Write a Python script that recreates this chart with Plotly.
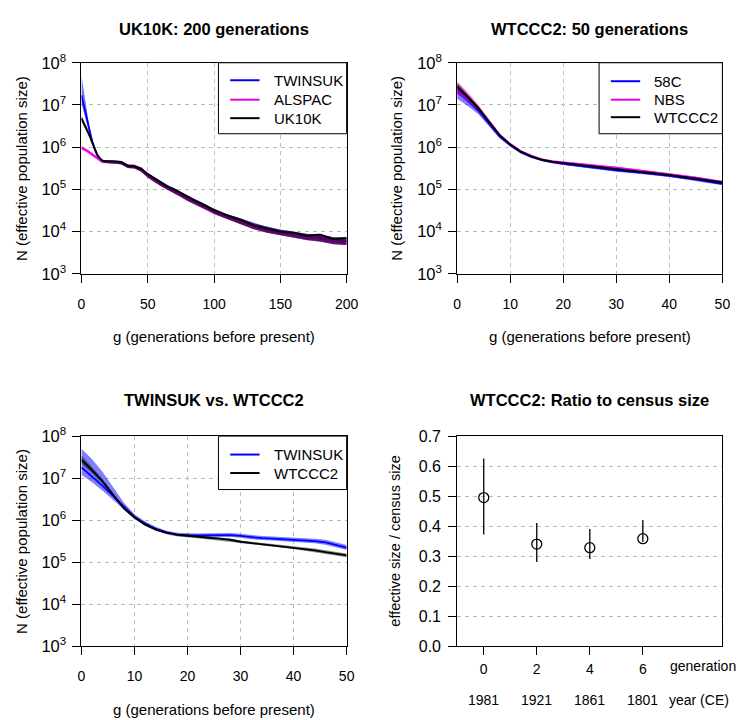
import plotly.graph_objects as go

# ---------------- data ----------------
# Panel 1: UK10K, 200 generations
G1 = [0, 2, 4, 6, 8, 10, 12, 14, 16, 18, 20, 25, 30, 35, 40, 45, 50, 55, 60, 65, 70, 75,
      80, 85, 90, 95, 100, 110, 120, 130, 140, 150, 160, 170, 180, 190, 200]
uk10k_mid = [4.8e6, 3.6e6, 2.7e6, 1.9e6, 1.3e6, 9.0e5, 6.6e5, 5.4e5, 4.8e5, 4.7e5, 4.7e5, 4.6e5,
             4.5e5, 3.6e5, 3.5e5, 3.1e5, 2.3e5, 1.8e5, 1.45e5, 1.15e5, 1.0e5, 8.2e4, 6.6e4, 5.5e4,
             4.7e4, 3.9e4, 3.2e4, 2.4e4, 1.9e4, 1.4e4, 1.2e4, 1.0e4, 9.3e3, 7.9e3, 8.4e3, 6.6e3, 7.0e3]
uk10k_lo = [4.0e6, 3.1e6, 2.4e6, 1.7e6, 1.2e6, 8.4e5, 6.2e5, 5.1e5, 4.5e5, 4.2e5, 4.1e5, 4.1e5,
            3.9e5, 3.2e5, 3.1e5, 2.6e5, 1.9e5, 1.5e5, 1.18e5, 9.5e4, 8.0e4, 6.6e4, 5.3e4, 4.4e4,
            3.75e4, 3.15e4, 2.6e4, 1.92e4, 1.5e4, 1.13e4, 9.4e3, 8.0e3, 7.2e3, 6.3e3, 5.8e3, 5.0e3, 4.8e3]
uk10k_hi = [5.6e6, 4.2e6, 3.0e6, 2.1e6, 1.4e6, 9.6e5, 7.0e5, 5.7e5, 5.0e5, 4.9e5, 4.9e5, 4.8e5,
            4.7e5, 3.9e5, 3.8e5, 3.3e5, 2.45e5, 1.95e5, 1.55e5, 1.25e5, 1.06e5, 8.7e4, 7.0e4, 5.9e4,
            5.0e4, 4.1e4, 3.45e4, 2.55e4, 2.05e4, 1.55e4, 1.3e4, 1.1e4, 1.0e4, 8.7e3, 8.8e3, 7.2e3, 7.4e3]
twinsuk1_mid = [1.7e7, 9.0e6, 4.5e6, 2.4e6, 1.4e6, 9.0e5, 6.3e5, 5.0e5, 4.5e5, 4.4e5, 4.4e5, 4.4e5,
                4.3e5, 3.5e5, 3.4e5, 2.9e5, 2.1e5, 1.7e5, 1.35e5, 1.1e5, 9.2e4, 7.6e4, 6.1e4, 5.1e4,
                4.3e4, 3.6e4, 3.0e4, 2.2e4, 1.75e4, 1.35e4, 1.1e4, 9.4e3, 8.5e3, 7.5e3, 7.0e3, 6.2e3, 5.9e3]
twinsuk1_lo = [1.1e7, 6.5e6, 3.6e6, 2.0e6, 1.2e6, 8.0e5, 5.8e5, 4.6e5, 4.2e5, 4.1e5, 4.1e5, 4.1e5,
               3.9e5, 3.2e5, 3.1e5, 2.6e5, 1.9e5, 1.5e5, 1.2e5, 9.7e4, 8.1e4, 6.7e4, 5.4e4, 4.5e4,
               3.8e4, 3.2e4, 2.65e4, 1.95e4, 1.5e4, 1.15e4, 9.4e3, 8.0e3, 7.2e3, 6.3e3, 5.8e3, 5.1e3, 4.8e3]
twinsuk1_hi = [5.0e7, 1.9e7, 6.8e6, 3.0e6, 1.65e6, 1.02e6, 6.9e5, 5.5e5, 4.9e5, 4.8e5, 4.8e5, 4.8e5,
               4.7e5, 3.9e5, 3.8e5, 3.3e5, 2.4e5, 1.95e5, 1.55e5, 1.26e5, 1.05e5, 8.7e4, 7.0e4, 5.9e4,
               4.9e4, 4.1e4, 3.45e4, 2.55e4, 2.05e4, 1.6e4, 1.3e4, 1.12e4, 1.0e4, 8.9e3, 8.3e3, 7.4e3, 7.1e3]
alspac_mid = [9.5e5, 9.0e5, 8.3e5, 7.5e5, 6.8e5, 6.2e5, 5.5e5, 4.9e5, 4.5e5, 4.4e5, 4.4e5, 4.4e5,
              4.3e5, 3.5e5, 3.4e5, 2.9e5, 2.1e5, 1.65e5, 1.3e5, 1.05e5, 8.8e4, 7.3e4, 5.9e4, 4.9e4,
              4.2e4, 3.5e4, 2.9e4, 2.15e4, 1.7e4, 1.3e4, 1.08e4, 9.2e3, 8.3e3, 7.3e3, 6.8e3, 6.0e3, 5.7e3]
alspac_lo = [8.5e5, 8.1e5, 7.5e5, 6.8e5, 6.2e5, 5.6e5, 5.0e5, 4.5e5, 4.2e5, 4.1e5, 4.1e5, 4.1e5,
             4.0e5, 3.2e5, 3.1e5, 2.6e5, 1.9e5, 1.48e5, 1.17e5, 9.4e4, 7.8e4, 6.5e4, 5.2e4, 4.3e4,
             3.7e4, 3.1e4, 2.55e4, 1.9e4, 1.48e4, 1.12e4, 9.3e3, 7.9e3, 7.1e3, 6.2e3, 5.7e3, 5.0e3, 4.7e3]
alspac_hi = [1.08e6, 1.0e6, 9.2e5, 8.3e5, 7.5e5, 6.8e5, 6.0e5, 5.3e5, 4.8e5, 4.7e5, 4.7e5, 4.7e5,
             4.6e5, 3.8e5, 3.7e5, 3.2e5, 2.35e5, 1.85e5, 1.45e5, 1.18e5, 1.0e5, 8.3e4, 6.7e4, 5.6e4,
             4.8e4, 4.0e4, 3.3e4, 2.45e4, 1.95e4, 1.5e4, 1.25e4, 1.07e4, 9.7e3, 8.6e3, 8.0e3, 7.1e3, 6.8e3]

# Panel 2: WTCCC2, 50 generations
G2 = [0, 2, 4, 6, 8, 10, 12, 14, 16, 18, 20, 25, 30, 35, 40, 45, 50]
wtccc2_mid = [2.7e7, 1.55e7, 8.3e6, 3.9e6, 1.9e6, 1.15e6, 7.8e5, 6.0e5, 5.0e5, 4.5e5, 4.2e5,
              3.55e5, 3.0e5, 2.55e5, 2.2e5, 1.8e5, 1.45e5]
wtccc2_lo = [2.2e7, 1.35e7, 7.4e6, 3.6e6, 1.78e6, 1.08e6, 7.4e5, 5.7e5, 4.8e5, 4.3e5, 4.0e5,
             3.4e5, 2.85e5, 2.42e5, 2.08e5, 1.7e5, 1.36e5]
wtccc2_hi = [3.3e7, 1.8e7, 9.4e6, 4.3e6, 2.05e6, 1.22e6, 8.2e5, 6.3e5, 5.3e5, 4.7e5, 4.4e5,
             3.7e5, 3.15e5, 2.68e5, 2.32e5, 1.9e5, 1.55e5]
c58_mid = [2.0e7, 1.25e7, 7.2e6, 3.6e6, 1.8e6, 1.12e6, 7.6e5, 5.9e5, 4.9e5, 4.4e5, 4.0e5,
           3.35e5, 2.8e5, 2.45e5, 2.1e5, 1.7e5, 1.35e5]
c58_lo = [1.4e7, 9.5e6, 6.0e6, 3.1e6, 1.6e6, 1.02e6, 7.0e5, 5.5e5, 4.6e5, 4.1e5, 3.75e5,
          3.1e5, 2.6e5, 2.28e5, 1.95e5, 1.58e5, 1.25e5]
c58_hi = [2.8e7, 1.6e7, 8.8e6, 4.2e6, 2.0e6, 1.2e6, 8.1e5, 6.3e5, 5.2e5, 4.7e5, 4.25e5,
          3.6e5, 3.0e5, 2.62e5, 2.25e5, 1.83e5, 1.45e5]
nbs_mid = [2.4e7, 1.5e7, 8.5e6, 4.0e6, 1.95e6, 1.18e6, 8.0e5, 6.2e5, 5.1e5, 4.6e5, 4.35e5,
           3.75e5, 3.25e5, 2.75e5, 2.3e5, 1.9e5, 1.5e5]
nbs_lo = [1.8e7, 1.2e7, 7.2e6, 3.5e6, 1.8e6, 1.1e6, 7.5e5, 5.8e5, 4.8e5, 4.35e5, 4.1e5,
          3.5e5, 3.02e5, 2.55e5, 2.15e5, 1.77e5, 1.4e5]
nbs_hi = [3.6e7, 2.0e7, 1.0e7, 4.6e6, 2.15e6, 1.27e6, 8.5e5, 6.6e5, 5.4e5, 4.9e5, 4.6e5,
          4.0e5, 3.5e5, 2.95e5, 2.45e5, 2.02e5, 1.6e5]

# Panel 3: TWINSUK vs. WTCCC2
G3 = [0, 2, 4, 6, 8, 10, 12, 14, 16, 18, 20, 22, 24, 26, 28, 30, 32, 34, 36, 38, 40, 42, 44, 46, 48, 50]
tw_mid = [1.8e7, 1.1e7, 6.5e6, 3.7e6, 2.1e6, 1.2e6, 8.3e5, 6.2e5, 5.1e5, 4.5e5, 4.3e5, 4.3e5, 4.35e5,
          4.4e5, 4.4e5, 4.2e5, 3.9e5, 3.7e5, 3.6e5, 3.5e5, 3.4e5, 3.3e5, 3.15e5, 2.95e5, 2.6e5, 2.2e5]
tw_lo = [1.2e7, 8.0e6, 5.0e6, 3.0e6, 1.8e6, 1.07e6, 7.5e5, 5.6e5, 4.6e5, 4.1e5, 3.9e5, 3.9e5, 3.95e5,
         4.0e5, 4.0e5, 3.8e5, 3.5e5, 3.35e5, 3.25e5, 3.15e5, 3.05e5, 2.95e5, 2.8e5, 2.6e5, 2.3e5, 1.95e5]
tw_hi = [5.0e7, 2.8e7, 1.4e7, 6.0e6, 2.6e6, 1.38e6, 9.2e5, 6.9e5, 5.6e5, 5.0e5, 4.8e5, 4.8e5, 4.85e5,
         4.9e5, 4.9e5, 4.7e5, 4.35e5, 4.15e5, 4.05e5, 3.95e5, 3.85e5, 3.75e5, 3.6e5, 3.4e5, 3.0e5, 2.55e5]
wt_mid = [2.7e7, 1.55e7, 8.3e6, 3.9e6, 1.9e6, 1.15e6, 7.8e5, 6.0e5, 5.0e5, 4.5e5, 4.2e5, 4.0e5, 3.8e5,
          3.6e5, 3.4e5, 3.05e5, 2.85e5, 2.7e5, 2.55e5, 2.4e5, 2.25e5, 2.1e5, 1.9e5, 1.72e5, 1.6e5, 1.45e5]
wt_lo = [2.2e7, 1.3e7, 7.3e6, 3.5e6, 1.75e6, 1.07e6, 7.3e5, 5.6e5, 4.7e5, 4.2e5, 3.95e5, 3.75e5, 3.55e5,
         3.35e5, 3.15e5, 2.85e5, 2.65e5, 2.5e5, 2.35e5, 2.2e5, 2.05e5, 1.9e5, 1.72e5, 1.55e5, 1.43e5, 1.3e5]
wt_hi = [3.5e7, 1.85e7, 9.4e6, 4.3e6, 2.05e6, 1.23e6, 8.3e5, 6.4e5, 5.3e5, 4.8e5, 4.45e5, 4.25e5, 4.05e5,
         3.85e5, 3.65e5, 3.25e5, 3.05e5, 2.9e5, 2.75e5, 2.6e5, 2.45e5, 2.3e5, 2.1e5, 1.9e5, 1.77e5, 1.6e5]

# Panel 4: ratio to census size
ratio_gen = [0, 2, 4, 6]
ratio_year = ["1981", "1921", "1861", "1801"]
ratio_val = [0.495, 0.340, 0.328, 0.358]
ratio_lo = [0.372, 0.280, 0.290, 0.347]
ratio_hi = [0.625, 0.410, 0.390, 0.420]

titles = ["UK10K: 200 generations", "WTCCC2: 50 generations",
          "TWINSUK vs. WTCCC2", "WTCCC2: Ratio to census size"]
log_tickvals = [1e3, 1e4, 1e5, 1e6, 1e7, 1e8]
log_ticktext = ["10<sup>3</sup>", "10<sup>4</sup>", "10<sup>5</sup>",
                "10<sup>6</sup>", "10<sup>7</sup>", "10<sup>8</sup>"]

# ---------------- figure ----------------
W, H = 744, 720
FONT = "Liberation Sans, Arial, Helvetica, sans-serif"
BLUE, MAG, BLK = "#0000FF", "#E600E6", "#000000"
FBLUE, FMAG, FBLK = "rgba(0,0,255,0.5)", "rgba(255,0,255,0.5)", "rgba(0,0,0,0.55)"


def X(px):
    return px / W


def Y(py):
    return 1 - py / H


fig = go.Figure()


def series(xs, mid, lo, hi, fill, color, xa, ya, name):
    fig.add_trace(go.Scatter(x=list(xs) + list(xs)[::-1], y=list(hi) + list(lo)[::-1],
                             fill="toself", fillcolor=fill, line=dict(width=0),
                             mode="lines", hoverinfo="skip", showlegend=False,
                             xaxis=xa, yaxis=ya))
    fig.add_trace(go.Scatter(x=xs, y=mid, mode="lines", line=dict(color=color, width=1.8),
                             name=name, showlegend=False, xaxis=xa, yaxis=ya))


# panel 1
series(G1, twinsuk1_mid, twinsuk1_lo, twinsuk1_hi, "rgba(0,0,255,0.55)", BLUE, "x", "y", "TWINSUK")
series(G1, alspac_mid, alspac_lo, alspac_hi, "rgba(255,0,255,0.55)", MAG, "x", "y", "ALSPAC")
series(G1, uk10k_mid, uk10k_lo, uk10k_hi, "rgba(0,0,0,0.58)", BLK, "x", "y", "UK10K")

# panel 2
series(G2, c58_mid, c58_lo, c58_hi, FBLUE, BLUE, "x2", "y2", "58C")
series(G2, nbs_mid, nbs_lo, nbs_hi, FMAG, MAG, "x2", "y2", "NBS")
series(G2, wtccc2_mid, wtccc2_lo, wtccc2_hi, FBLK, BLK, "x2", "y2", "WTCCC2")

# panel 3
series(G3, tw_mid, tw_lo, tw_hi, FBLUE, BLUE, "x3", "y3", "TWINSUK")
series(G3, wt_mid, wt_lo, wt_hi, "rgba(0,0,0,0.45)", BLK, "x3", "y3", "WTCCC2")

# panel 4
fig.add_trace(go.Scatter(
    x=ratio_gen, y=ratio_val, mode="markers",
    marker=dict(symbol="circle-open", size=10, color="black", line=dict(width=1.3)),
    error_y=dict(type="data", symmetric=False,
                 array=[h - v for h, v in zip(ratio_hi, ratio_val)],
                 arrayminus=[v - l for v, l in zip(ratio_val, ratio_lo)],
                 width=0, thickness=1.3, color="black"),
    showlegend=False, xaxis="x4", yaxis="y4"))

# panel pixel boxes: (left, right, top, bottom)
boxes = [(71, 342, 45, 262), (455, 726, 45, 262), (71, 342, 429, 645), (455, 726, 429, 645)]

GRID = "#BDBDBD"
tickfont = dict(family=FONT, size=14, color="black")
ytickfont = dict(family=FONT, size=16.5, color="black")
common_axis = dict(showline=True, linecolor="black", linewidth=1, mirror=True,
                   ticks="outside", ticklen=8, tickcolor="black", tickwidth=1,
                   tickfont=tickfont, zeroline=False, showgrid=True,
                   gridcolor=GRID, gridwidth=1, griddash="4px,4px")

layout = dict(width=W, height=H, margin=dict(l=0, r=0, t=0, b=0),
              paper_bgcolor="white", plot_bgcolor="white", showlegend=False,
              font=dict(family=FONT, color="black"))

xranges = [[0, 200], [0, 50], [0, 50], [-1, 9]]
xdticks = [50, 10, 10, None]
for i, (l, r, t, b) in enumerate(boxes):
    sfx = "" if i == 0 else str(i + 1)
    xa = dict(common_axis, domain=[X(l), X(r)], anchor="y" + sfx, range=xranges[i],
              ticklabelstandoff=9)
    if i < 3:
        xa.update(tickmode="linear", tick0=0, dtick=xdticks[i])
        ya = dict(common_axis, domain=[Y(b), Y(t)], anchor="x" + sfx, type="log",
                  range=[3, 8], tickvals=log_tickvals, ticktext=log_ticktext,
                  ticklabelstandoff=3, tickfont=ytickfont)
    else:
        xa.update(tickvals=ratio_gen, ticktext=[str(g) for g in ratio_gen],
                  showgrid=False, ticklabelstandoff=2)
        ya = dict(common_axis, domain=[Y(b), Y(t)], anchor="x" + sfx, range=[0, 0.7],
                  tickvals=[0, 0.1, 0.2, 0.3, 0.4, 0.5, 0.6, 0.7],
                  ticktext=["0.0", "0.1", "0.2", "0.3", "0.4", "0.5", "0.6", "0.7"],
                  ticklabelstandoff=4, tickfont=dict(family=FONT, size=16, color="black"))
    layout["xaxis" + sfx] = xa
    layout["yaxis" + sfx] = ya

fig.update_layout(**layout)

ann = []
shapes = []
# titles
title_y = [10, 10, 392, 392]
for i, (l, r, t, b) in enumerate(boxes):
    ann.append(dict(x=X((l + r) / 2), y=Y(title_y[i]), xref="paper", yref="paper",
                    text="<b>" + titles[i] + "</b>", showarrow=False,
                    xanchor="center", yanchor="middle",
                    font=dict(family=FONT, size=16.5, color="black")))
# x axis titles
for i, yy in [(0, 327), (1, 327), (2, 710)]:
    l, r, t, b = boxes[i]
    ann.append(dict(x=X((l + r) / 2), y=Y(yy), xref="paper", yref="paper",
                    text="g (generations before present)", showarrow=False,
                    xanchor="center", yanchor="middle",
                    font=dict(family=FONT, size=15, color="black")))
# y axis titles
ytitles = ["N (effective population size)", "N (effective population size)",
           "N (effective population size)", "effective size / census size"]
ytx = [9, 393, 9, 392]
for i, (l, r, t, b) in enumerate(boxes):
    ann.append(dict(x=X(ytx[i]), y=Y((t + b) / 2), xref="paper", yref="paper",
                    text=ytitles[i], showarrow=False, textangle=-90,
                    xanchor="center", yanchor="middle",
                    font=dict(family=FONT, size=15 if i < 3 else 14.5, color="black")))
# panel 4 extra labels
for g, yr in zip(ratio_gen, ratio_year):
    ann.append(dict(x=g, y=Y(700), xref="x4", yref="paper", text=yr, showarrow=False,
                    xanchor="center", yanchor="middle", font=tickfont))
ann.append(dict(x=X(741), y=Y(665), xref="paper", yref="paper", text="generation",
                showarrow=False, xanchor="right", yanchor="middle", borderpad=0,
                font=dict(family=FONT, size=14, color="black")))
ann.append(dict(x=X(670), y=Y(700), xref="paper", yref="paper", text="year (CE)",
                showarrow=False, xanchor="left", yanchor="middle", borderpad=0,
                font=tickfont))

# legends (drawn manually)
legends = [
    dict(box=(211, 342, 45, 118), line=(223, 253), tx=266, rows=[63, 83, 102],
         names=["TWINSUK", "ALSPAC", "UK10K"], colors=[BLUE, MAG, BLK]),
    dict(box=(600, 726, 45, 118), line=(612, 642), tx=654, rows=[64, 83, 101],
         names=["58C", "NBS", "WTCCC2"], colors=[BLUE, MAG, BLK]),
    dict(box=(211, 342, 429, 484), line=(223, 253), tx=266, rows=[448, 467],
         names=["TWINSUK", "WTCCC2"], colors=[BLUE, BLK]),
]
for lg in legends:
    l, r, t, b = lg["box"]
    shapes.append(dict(type="rect", xref="paper", yref="paper", x0=X(l), x1=X(r),
                       y0=Y(b), y1=Y(t), line=dict(color="black", width=1),
                       fillcolor="white", layer="above"))
    for nm, col, ry in zip(lg["names"], lg["colors"], lg["rows"]):
        shapes.append(dict(type="line", xref="paper", yref="paper",
                           x0=X(lg["line"][0]), x1=X(lg["line"][1]), y0=Y(ry), y1=Y(ry),
                           line=dict(color=col, width=2), layer="above"))
        ann.append(dict(x=X(lg["tx"]), y=Y(ry), xref="paper", yref="paper", text=nm,
                        showarrow=False, xanchor="left", yanchor="middle",
                        font=dict(family=FONT, size=15, color="black")))

fig.update_layout(annotations=ann, shapes=shapes)
fig.write_html("out.html")
